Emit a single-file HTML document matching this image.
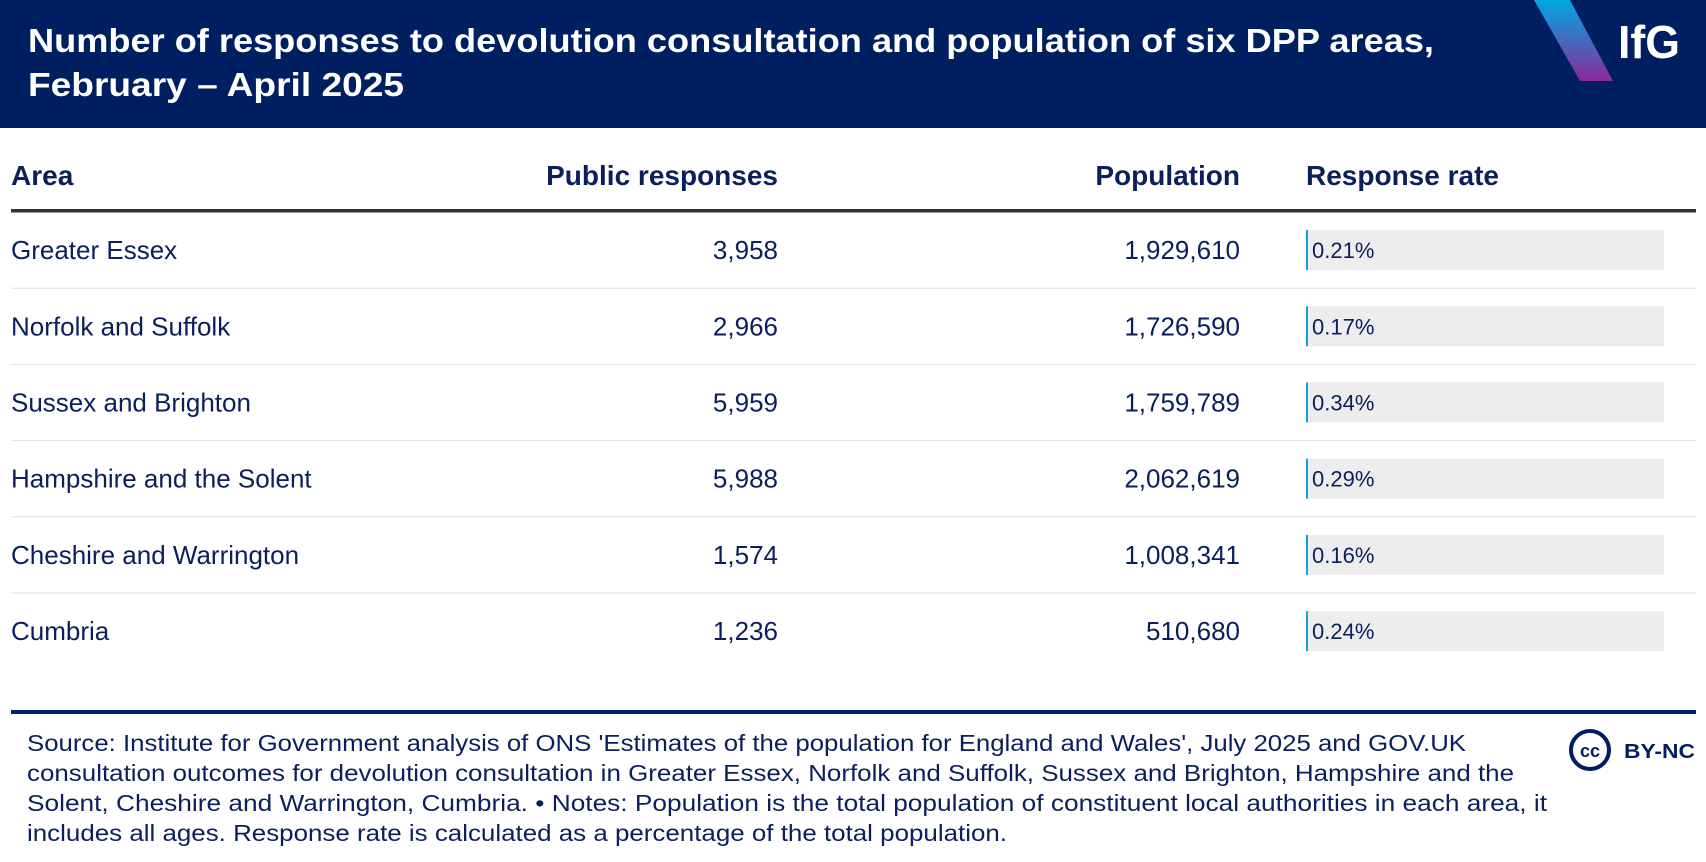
<!DOCTYPE html>
<html><head><meta charset="utf-8"><style>
html,body{margin:0;padding:0;background:#fff;width:1706px;height:862px;overflow:hidden}
svg{display:block;font-family:"Liberation Sans",sans-serif}
</style></head><body>
<svg id="s" width="1706" height="862" viewBox="0 0 1706 862" xmlns="http://www.w3.org/2000/svg">
<defs><linearGradient id="g" x1="0" y1="0" x2="0" y2="1"><stop offset="0" stop-color="#00a8e0"/><stop offset="1" stop-color="#8a2a9a"/></linearGradient></defs>
<rect x="0" y="0" width="1706" height="128" fill="#001f60"/>
<text fill="#fff" font-weight="bold" font-size="33">
<tspan x="28" y="52" textLength="1406" lengthAdjust="spacingAndGlyphs">Number of responses to devolution consultation and population of six DPP areas,</tspan>
<tspan x="28" y="96" textLength="376" lengthAdjust="spacingAndGlyphs">February – April 2025</tspan></text>
<polygon points="1534,0 1570,0 1613,81 1580,81" fill="url(#g)"/>
<text x="1618" y="58" fill="#fff" font-weight="bold" font-size="46" textLength="62" lengthAdjust="spacingAndGlyphs">IfG</text>
<g fill="#0a1f5c" font-weight="bold" font-size="28">
<text x="11" y="185">Area</text>
<text x="778" y="185" text-anchor="end">Public responses</text>
<text x="1240" y="185" text-anchor="end">Population</text>
<text x="1306" y="185">Response rate</text>
</g>
<rect x="11" y="209" width="1685" height="3.5" fill="#333"/>
<g id="rows"></g>
<rect x="11" y="710" width="1685" height="4" fill="#001f60"/>
<text fill="#0a1f5c" font-size="23">
<tspan x="27" y="751" textLength="1439" lengthAdjust="spacingAndGlyphs">Source: Institute for Government analysis of ONS 'Estimates of the population for England and Wales', July 2025 and GOV.UK</tspan>
<tspan x="27" y="781" textLength="1487" lengthAdjust="spacingAndGlyphs">consultation outcomes for devolution consultation in Greater Essex, Norfolk and Suffolk, Sussex and Brighton, Hampshire and the</tspan>
<tspan x="27" y="811" textLength="1520" lengthAdjust="spacingAndGlyphs">Solent, Cheshire and Warrington, Cumbria.  • Notes: Population is the total population of constituent local authorities in each area, it</tspan>
<tspan x="27" y="841" textLength="980" lengthAdjust="spacingAndGlyphs">includes all ages. Response rate is calculated as a percentage of the total population.</tspan></text>
<g>
<circle cx="1590" cy="750" r="19" fill="none" stroke="#001f60" stroke-width="4"/>
<text x="1590" y="757" text-anchor="middle" font-weight="bold" font-size="18" fill="#001f60">cc</text>
<text x="1624" y="758" font-weight="bold" font-size="20" fill="#001f60" textLength="71" lengthAdjust="spacingAndGlyphs">BY-NC</text>
</g>
</svg>
<script>
const areas=["Greater Essex","Norfolk and Suffolk","Sussex and Brighton","Hampshire and the Solent","Cheshire and Warrington","Cumbria"];
const responses=[3958,2966,5959,5988,1574,1236];
const population=[1929610,1726590,1759789,2062619,1008341,510680];
const rates=[0.21,0.17,0.34,0.29,0.16,0.24];
const NS="http://www.w3.org/2000/svg";
const g=document.getElementById('rows');
const rowTop=212,rowH=76.2,barX=1306,barW=358;
function mk(t,a,parent){const e=document.createElementNS(NS,t);for(const k in a)e.setAttribute(k,a[k]);(parent||g).appendChild(e);return e;}
function xRate(v){return barX+Math.max(2,v/100*barW);}
areas.forEach((a,i)=>{
  const cy=rowTop+rowH*(i+0.5);
  const grp=mk('g',{});
  
  
  const t1=mk('text',{x:11,y:cy+9,'font-size':26,fill:'#0a1f5c'},grp);t1.textContent=a;
  
  
  const t2=mk('text',{x:778,y:cy+9,'font-size':26,fill:'#0a1f5c','text-anchor':'end'},grp);t2.textContent=responses[i].toLocaleString('en-GB');
  
  
  const t3=mk('text',{x:1240,y:cy+9,'font-size':26,fill:'#0a1f5c','text-anchor':'end'},grp);t3.textContent=population[i].toLocaleString('en-GB');
  
  
  const bg=mk('rect',{x:barX,y:cy-20,width:barW,height:40,fill:'#ededed'},grp);
  
  
  const b=mk('rect',{x:barX,y:cy-20,width:xRate(rates[i])-barX,height:40,fill:'#1aa0d8'},grp);
  
  
  const t4=mk('text',{x:barX+6,y:cy+8,'font-size':22,fill:'#0a1f5c'},grp);t4.textContent=rates[i].toFixed(2)+'%';
  
  
  if(i<areas.length-1){const l=mk('rect',{x:11,y:rowTop+rowH*(i+1)-0.5,width:1685,height:1,fill:'#e2e2e2'},grp);
  
  }
});
</script>
</body></html>
